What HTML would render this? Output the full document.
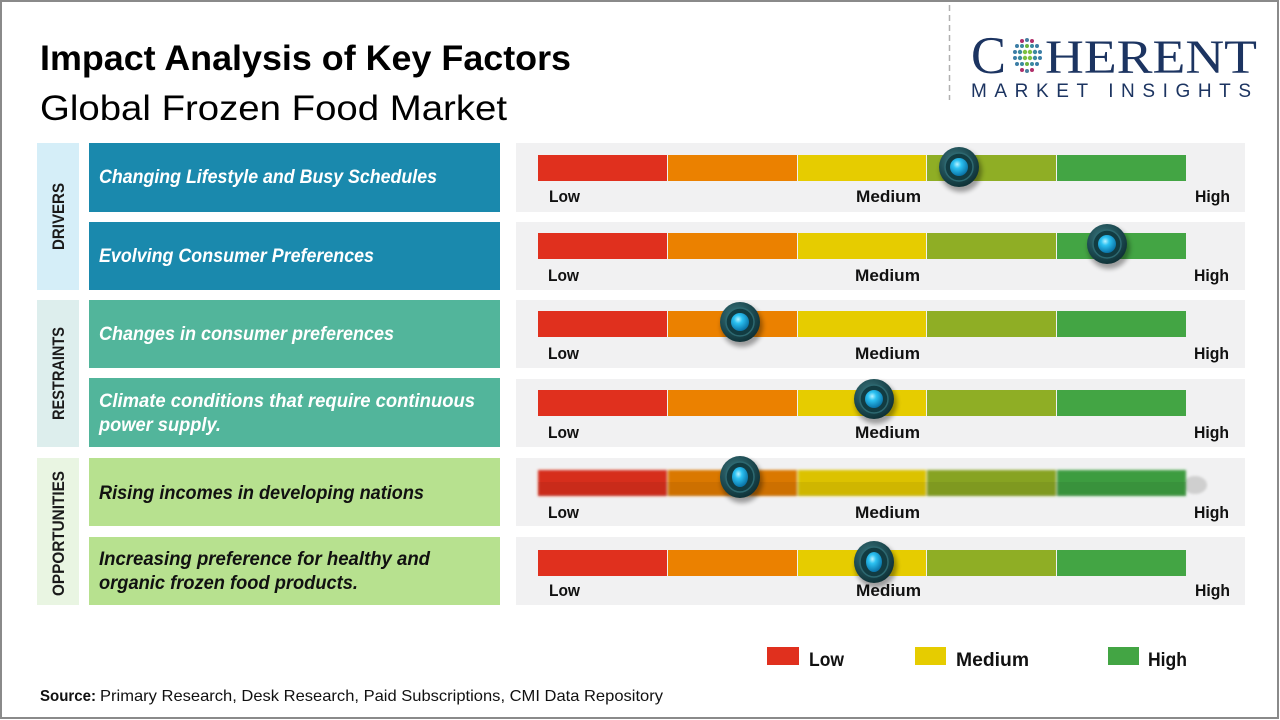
<!DOCTYPE html>
<html><head><meta charset="utf-8"><style>
html,body{margin:0;padding:0;background:#fff;}
svg{display:block;}
</style></head><body>
<svg width="1280" height="720" viewBox="0 0 1280 720" xmlns="http://www.w3.org/2000/svg">
<defs>
<radialGradient id="kOut" cx="40%" cy="35%" r="70%">
<stop offset="0" stop-color="#3d7880"/><stop offset="0.6" stop-color="#1d4b52"/><stop offset="1" stop-color="#0d2e33"/>
</radialGradient>
<radialGradient id="kIn" cx="40%" cy="35%" r="65%">
<stop offset="0" stop-color="#b8f2ff"/><stop offset="0.35" stop-color="#2cc2f2"/><stop offset="1" stop-color="#0a74a8"/>
</radialGradient>
<filter id="sh" x="-50%" y="-50%" width="200%" height="200%"><feGaussianBlur stdDeviation="2.5"/></filter>
<filter id="bl" x="-5%" y="-50%" width="110%" height="200%"><feGaussianBlur stdDeviation="1.2"/></filter>
</defs>
<rect x="0" y="0" width="1280" height="720" fill="#fff"/>
<rect x="1" y="1" width="1277" height="717" fill="none" stroke="#8a8a8a" stroke-width="2"/>

<!-- Titles -->
<text x="40" y="70" font-family="Liberation Sans, sans-serif" font-weight="bold" font-size="35" fill="#000" textLength="531" lengthAdjust="spacingAndGlyphs">Impact Analysis of Key Factors</text>
<text x="40" y="120" font-family="Liberation Sans, sans-serif" font-size="35" fill="#000" textLength="467" lengthAdjust="spacingAndGlyphs">Global Frozen Food Market</text>

<!-- Dashed divider -->
<line x1="949.5" y1="5" x2="949.5" y2="100" stroke="#b0b0b0" stroke-width="1.5" stroke-dasharray="6,4"/>

<!-- Logo -->
<text x="971" y="73" font-family="Liberation Serif, serif" font-size="53" fill="#1c3461" textLength="35" lengthAdjust="spacingAndGlyphs">C</text>
<text x="1045" y="73" font-family="Liberation Serif, serif" font-size="48" fill="#1c3461" textLength="212" lengthAdjust="spacingAndGlyphs">HERENT</text>
<text x="971" y="97" font-family="Liberation Sans, sans-serif" font-size="19" fill="#1c3461" textLength="280" lengthAdjust="spacing">MARKET INSIGHTS</text>
<g>
<circle cx="1022" cy="41" r="2" fill="#b0306a"/><circle cx="1027" cy="40" r="2" fill="#4a7fa0"/><circle cx="1032" cy="41" r="2" fill="#b0306a"/>
<circle cx="1017" cy="46" r="2" fill="#3c7ea6"/><circle cx="1022" cy="46" r="2" fill="#3c8aa0"/><circle cx="1027" cy="46" r="2" fill="#6db33f"/><circle cx="1032" cy="46" r="2" fill="#3c8aa0"/><circle cx="1037" cy="46" r="2" fill="#3c7ea6"/>
<circle cx="1015" cy="52" r="2" fill="#3c7ea6"/><circle cx="1020" cy="52" r="2.2" fill="#3c8aa0"/><circle cx="1025" cy="52" r="2.2" fill="#7cc142"/><circle cx="1030" cy="52" r="2.2" fill="#7cc142"/><circle cx="1035" cy="52" r="2.2" fill="#3c8aa0"/><circle cx="1040" cy="52" r="2" fill="#3c7ea6"/>
<circle cx="1015" cy="58" r="2" fill="#3c7ea6"/><circle cx="1020" cy="58" r="2.2" fill="#3c8aa0"/><circle cx="1025" cy="58" r="2.2" fill="#7cc142"/><circle cx="1030" cy="58" r="2.2" fill="#7cc142"/><circle cx="1035" cy="58" r="2.2" fill="#3c8aa0"/><circle cx="1040" cy="58" r="2" fill="#3c7ea6"/>
<circle cx="1017" cy="64" r="2" fill="#3c7ea6"/><circle cx="1022" cy="64" r="2" fill="#3c8aa0"/><circle cx="1027" cy="64" r="2" fill="#6db33f"/><circle cx="1032" cy="64" r="2" fill="#3c8aa0"/><circle cx="1037" cy="64" r="2" fill="#3c7ea6"/>
<circle cx="1022" cy="70" r="2" fill="#b0306a"/><circle cx="1027" cy="71" r="2" fill="#4a7fa0"/><circle cx="1032" cy="70" r="2" fill="#b0306a"/>
</g>

<!-- Category side bars -->
<rect x="37" y="143" width="42" height="147" fill="#d5eef8"/>
<rect x="37" y="300" width="42" height="147" fill="#ddeeed"/>
<rect x="37" y="458" width="42" height="147" fill="#e9f5e2"/>
<text transform="translate(64,250) rotate(-90)" font-family="Liberation Sans, sans-serif" font-weight="bold" font-size="17" fill="#1a1a1a" textLength="67" lengthAdjust="spacingAndGlyphs">DRIVERS</text>
<text transform="translate(64,420) rotate(-90)" font-family="Liberation Sans, sans-serif" font-weight="bold" font-size="17" fill="#1a1a1a" textLength="93" lengthAdjust="spacingAndGlyphs">RESTRAINTS</text>
<text transform="translate(64,596) rotate(-90)" font-family="Liberation Sans, sans-serif" font-weight="bold" font-size="17" fill="#1a1a1a" textLength="125" lengthAdjust="spacingAndGlyphs">OPPORTUNITIES</text>

<!-- Factor boxes -->
<g font-family="Liberation Sans, sans-serif" font-weight="bold" font-style="italic" font-size="19">
<rect x="89" y="143" width="411" height="69" fill="#1a89ad"/>
<text x="99" y="183" fill="#fff" textLength="338" lengthAdjust="spacingAndGlyphs">Changing Lifestyle and Busy Schedules</text>
<rect x="89" y="222" width="411" height="68" fill="#1a89ad"/>
<text x="99" y="262" fill="#fff" textLength="275" lengthAdjust="spacingAndGlyphs">Evolving Consumer Preferences</text>
<rect x="89" y="300" width="411" height="68" fill="#52b59b"/>
<text x="99" y="340" fill="#fff" textLength="295" lengthAdjust="spacingAndGlyphs">Changes in consumer preferences</text>
<rect x="89" y="378" width="411" height="69" fill="#52b59b"/>
<text x="99" y="407" fill="#fff" textLength="376" lengthAdjust="spacingAndGlyphs">Climate conditions that require continuous</text>
<text x="99" y="431" fill="#fff" textLength="122" lengthAdjust="spacingAndGlyphs">power supply.</text>
<rect x="89" y="458" width="411" height="68" fill="#b7e18f"/>
<text x="99" y="499" fill="#111" textLength="325" lengthAdjust="spacingAndGlyphs">Rising incomes in developing nations</text>
<rect x="89" y="537" width="411" height="68" fill="#b7e18f"/>
<text x="99" y="565" fill="#111" textLength="331" lengthAdjust="spacingAndGlyphs">Increasing preference for healthy and</text>
<text x="99" y="589" fill="#111" textLength="259" lengthAdjust="spacingAndGlyphs">organic frozen food products.</text>
</g>

<!-- Gauge panels -->
<g>
<rect x="516" y="143" width="729" height="69" fill="#f1f1f2"/>
<rect x="516" y="222" width="729" height="68" fill="#f1f1f2"/>
<rect x="516" y="300" width="729" height="68" fill="#f1f1f2"/>
<rect x="516" y="379" width="729" height="68" fill="#f1f1f2"/>
<rect x="516" y="458" width="729" height="68" fill="#f1f1f2"/>
<rect x="516" y="537" width="729" height="68" fill="#f1f1f2"/>
</g>

<!-- Bars -->
<g id="bars">
<rect x="538" y="155" width="129" height="26" fill="#e0301e"/><rect x="668" y="155" width="129" height="26" fill="#eb8100"/><rect x="798" y="155" width="128" height="26" fill="#e6cc00"/><rect x="927" y="155" width="129" height="26" fill="#8fae25"/><rect x="1057" y="155" width="129" height="26" fill="#43a544"/>
<rect x="538" y="233" width="129" height="26" fill="#e0301e"/><rect x="668" y="233" width="129" height="26" fill="#eb8100"/><rect x="798" y="233" width="128" height="26" fill="#e6cc00"/><rect x="927" y="233" width="129" height="26" fill="#8fae25"/><rect x="1057" y="233" width="129" height="26" fill="#43a544"/>
<rect x="538" y="311" width="129" height="26" fill="#e0301e"/><rect x="668" y="311" width="129" height="26" fill="#eb8100"/><rect x="798" y="311" width="128" height="26" fill="#e6cc00"/><rect x="927" y="311" width="129" height="26" fill="#8fae25"/><rect x="1057" y="311" width="129" height="26" fill="#43a544"/>
<rect x="538" y="390" width="129" height="26" fill="#e0301e"/><rect x="668" y="390" width="129" height="26" fill="#eb8100"/><rect x="798" y="390" width="128" height="26" fill="#e6cc00"/><rect x="927" y="390" width="129" height="26" fill="#8fae25"/><rect x="1057" y="390" width="129" height="26" fill="#43a544"/>
<ellipse cx="1195" cy="485" rx="12" ry="9" fill="#cfcfcf" filter="url(#bl)"/>
<g filter="url(#bl)">
<rect x="538" y="470" width="129" height="26" fill="#d62f1e"/><rect x="668" y="470" width="129" height="26" fill="#da7800"/><rect x="798" y="470" width="128" height="26" fill="#dcc200"/><rect x="927" y="470" width="129" height="26" fill="#87a324"/><rect x="1057" y="470" width="129" height="26" fill="#3e9c41"/>
</g>
<rect x="538" y="482" width="648" height="14" fill="#000" opacity="0.06"/>
<rect x="538" y="550" width="129" height="26" fill="#e0301e"/><rect x="668" y="550" width="129" height="26" fill="#eb8100"/><rect x="798" y="550" width="128" height="26" fill="#e6cc00"/><rect x="927" y="550" width="129" height="26" fill="#8fae25"/><rect x="1057" y="550" width="129" height="26" fill="#43a544"/>
</g>

<!-- Gauge labels -->
<g font-family="Liberation Sans, sans-serif" font-weight="bold" font-size="17" fill="#111">
<text x="549" y="202" textLength="31" lengthAdjust="spacingAndGlyphs">Low</text><text x="856" y="202" textLength="65" lengthAdjust="spacingAndGlyphs">Medium</text><text x="1195" y="202" textLength="35" lengthAdjust="spacingAndGlyphs">High</text>
<text x="548" y="281" textLength="31" lengthAdjust="spacingAndGlyphs">Low</text><text x="855" y="281" textLength="65" lengthAdjust="spacingAndGlyphs">Medium</text><text x="1194" y="281" textLength="35" lengthAdjust="spacingAndGlyphs">High</text>
<text x="548" y="359" textLength="31" lengthAdjust="spacingAndGlyphs">Low</text><text x="855" y="359" textLength="65" lengthAdjust="spacingAndGlyphs">Medium</text><text x="1194" y="359" textLength="35" lengthAdjust="spacingAndGlyphs">High</text>
<text x="548" y="438" textLength="31" lengthAdjust="spacingAndGlyphs">Low</text><text x="855" y="438" textLength="65" lengthAdjust="spacingAndGlyphs">Medium</text><text x="1194" y="438" textLength="35" lengthAdjust="spacingAndGlyphs">High</text>
<text x="548" y="518" textLength="31" lengthAdjust="spacingAndGlyphs">Low</text><text x="855" y="518" textLength="65" lengthAdjust="spacingAndGlyphs">Medium</text><text x="1194" y="518" textLength="35" lengthAdjust="spacingAndGlyphs">High</text>
<text x="549" y="596" textLength="31" lengthAdjust="spacingAndGlyphs">Low</text><text x="856" y="596" textLength="65" lengthAdjust="spacingAndGlyphs">Medium</text><text x="1195" y="596" textLength="35" lengthAdjust="spacingAndGlyphs">High</text>
</g>

<!-- Knobs -->
<g>
<ellipse cx="961" cy="171" rx="21" ry="21" fill="#000" opacity="0.35" filter="url(#sh)"/>
<circle cx="959" cy="167" r="20" fill="url(#kOut)"/><circle cx="959" cy="167" r="14" fill="#123c42" stroke="#2d6870" stroke-width="1.5"/><circle cx="959" cy="167" r="9" fill="url(#kIn)"/>

<ellipse cx="1109" cy="248" rx="21" ry="21" fill="#000" opacity="0.35" filter="url(#sh)"/>
<circle cx="1107" cy="244" r="20" fill="url(#kOut)"/><circle cx="1107" cy="244" r="14" fill="#123c42" stroke="#2d6870" stroke-width="1.5"/><circle cx="1107" cy="244" r="9" fill="url(#kIn)"/>

<ellipse cx="742" cy="326" rx="21" ry="21" fill="#000" opacity="0.35" filter="url(#sh)"/>
<circle cx="740" cy="322" r="20" fill="url(#kOut)"/><circle cx="740" cy="322" r="14" fill="#123c42" stroke="#2d6870" stroke-width="1.5"/><circle cx="740" cy="322" r="9" fill="url(#kIn)"/>

<ellipse cx="876" cy="403" rx="21" ry="21" fill="#000" opacity="0.35" filter="url(#sh)"/>
<circle cx="874" cy="399" r="20" fill="url(#kOut)"/><circle cx="874" cy="399" r="14" fill="#123c42" stroke="#2d6870" stroke-width="1.5"/><circle cx="874" cy="399" r="9" fill="url(#kIn)"/>

<ellipse cx="742" cy="481" rx="21" ry="22" fill="#000" opacity="0.35" filter="url(#sh)"/>
<ellipse cx="740" cy="477" rx="20" ry="21" fill="url(#kOut)"/><ellipse cx="740" cy="477" rx="14" ry="15" fill="#123c42" stroke="#2d6870" stroke-width="1.5"/><ellipse cx="740" cy="477" rx="8" ry="10" fill="url(#kIn)"/>

<ellipse cx="876" cy="566" rx="21" ry="22" fill="#000" opacity="0.35" filter="url(#sh)"/>
<ellipse cx="874" cy="562" rx="20" ry="21" fill="url(#kOut)"/><ellipse cx="874" cy="562" rx="14" ry="15" fill="#123c42" stroke="#2d6870" stroke-width="1.5"/><ellipse cx="874" cy="562" rx="8" ry="10" fill="url(#kIn)"/>
</g>

<!-- Legend -->
<rect x="767" y="647" width="32" height="18" fill="#e0301e"/>
<rect x="915" y="647" width="31" height="18" fill="#e6cc00"/>
<rect x="1108" y="647" width="31" height="18" fill="#43a544"/>
<g font-family="Liberation Sans, sans-serif" font-weight="bold" font-size="19" fill="#111">
<text x="809" y="666" textLength="35" lengthAdjust="spacingAndGlyphs">Low</text>
<text x="956" y="666" textLength="73" lengthAdjust="spacingAndGlyphs">Medium</text>
<text x="1148" y="666" textLength="39" lengthAdjust="spacingAndGlyphs">High</text>
</g>

<!-- Source -->
<text x="40" y="701" font-family="Liberation Sans, sans-serif" font-weight="bold" font-size="16" fill="#111" textLength="56" lengthAdjust="spacingAndGlyphs">Source:</text>
<text x="100" y="701" font-family="Liberation Sans, sans-serif" font-size="16" fill="#111" textLength="563" lengthAdjust="spacingAndGlyphs">Primary Research, Desk Research, Paid Subscriptions, CMI Data Repository</text>
</svg>
</body></html>
